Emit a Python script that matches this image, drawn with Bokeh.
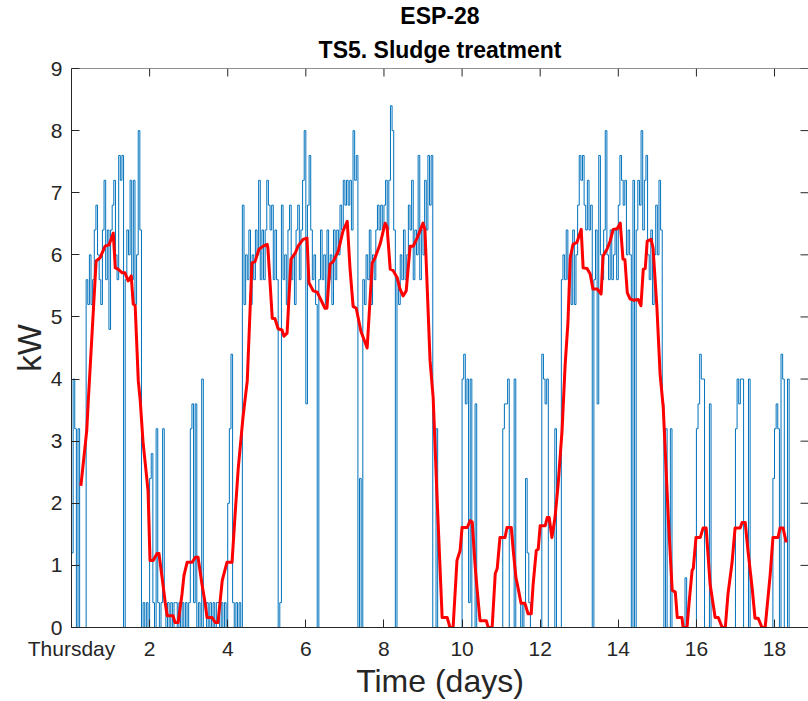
from math import pi
from bokeh.plotting import figure
from bokeh.models import Range1d, FixedTicker, Title, Span
from bokeh.embed import file_html
from bokeh.resources import INLINE

# ---- blue series: hourly power readings (kW), one list per day ----
kw_day00 = [1.2, 4.0, 3.2, 0, 3.2, 0, 0, 0, 0, 5.6, 5.2, 6.0, 5.2, 5.6, 6.4, 6.8, 6.0, 5.6, 5.2, 6.4, 7.2, 5.6, 6.4, 4.8]
kw_day01 = [6.4, 6.8, 7.2, 6.0, 5.6, 7.6, 7.2, 7.6, 0, 5.6, 6.4, 6.0, 7.2, 5.6, 7.2, 5.2, 6.0, 8.0, 6.4, 0, 0.4, 0, 0.4, 0]
kw_day02 = [2.4, 2.8, 0.4, 0, 3.2, 0.4, 0, 0.4, 3.2, 0.4, 0, 0.4, 0, 0.4, 0, 0.4, 0.4, 0, 0.4, 0, 0.4, 0, 0.4, 0]
kw_day03 = [0.4, 3.2, 3.6, 0.4, 3.6, 0, 0.4, 0, 4.0, 0, 0, 0.4, 0, 0.4, 0, 0.4, 0, 0.4, 0.4, 0, 0.4, 0, 0.4, 0]
kw_day04 = [2.0, 3.2, 4.4, 0.4, 0, 0.4, 0, 0.4, 0, 6.8, 5.2, 6.0, 5.6, 6.4, 5.2, 6.0, 5.6, 6.4, 6.0, 7.2, 5.6, 6.4, 5.6, 6.4]
kw_day05 = [7.2, 6.8, 6.4, 6.8, 5.6, 6.4, 5.6, 0, 0.4, 6.8, 5.6, 6.0, 5.2, 6.4, 6.8, 5.6, 6.0, 5.2, 6.4, 6.8, 5.6, 6.4, 7.2, 8.0]
kw_day06 = [3.6, 6.8, 7.6, 6.4, 5.6, 6.0, 5.2, 0, 5.6, 6.4, 5.6, 6.0, 5.2, 6.4, 5.6, 6.0, 5.2, 6.4, 5.6, 6.4, 6.0, 6.8, 6.4, 7.2]
kw_day07 = [6.8, 7.2, 6.8, 7.2, 6.4, 8.0, 7.2, 7.6, 0, 2.4, 0, 5.6, 5.2, 6.0, 5.6, 6.4, 5.2, 6.0, 5.6, 6.4, 6.8, 6.4, 6.8, 6.4]
kw_day08 = [6.8, 7.2, 6.4, 7.2, 8.4, 8.0, 6.4, 0, 5.6, 5.2, 6.0, 5.6, 6.4, 5.6, 6.0, 6.8, 6.4, 7.2, 5.6, 6.4, 6.0, 7.6, 5.6, 6.4]
kw_day09 = [6.0, 7.2, 6.4, 7.6, 6.8, 7.6, 0, 0, 3.2, 0, 0, 0, 0, 0, 0, 0, 0, 0, 0, 0, 0, 0, 0, 0]
kw_day10 = [4.0, 4.4, 3.6, 4.0, 0.4, 4.0, 0, 0, 3.6, 0, 0, 0, 0, 0, 0, 0, 0, 0, 0, 0, 0, 0, 0, 0]
kw_day11 = [0, 3.2, 3.6, 3.6, 4.0, 0, 0, 0, 4.0, 0, 0, 0, 0.4, 0, 0.4, 2.4, 1.2, 0.4, 0, 0, 0, 0, 0, 0]
kw_day12 = [0, 4.4, 4.0, 3.6, 4.0, 0, 0, 0, 0, 3.2, 0, 0, 0, 5.6, 6.0, 5.6, 6.4, 5.6, 6.0, 5.2, 6.4, 5.2, 6.0, 6.8]
kw_day13 = [7.6, 7.2, 7.6, 6.8, 6.4, 7.2, 6.4, 6.8, 0, 5.6, 6.4, 3.6, 7.6, 6.0, 5.6, 6.4, 8.0, 6.0, 5.6, 6.4, 5.6, 6.0, 6.4, 5.6]
kw_day14 = [6.8, 7.6, 7.2, 6.8, 7.2, 6.0, 6.4, 6.0, 0, 7.2, 0, 6.4, 7.2, 6.8, 8.0, 6.4, 7.2, 7.6, 6.0, 5.6, 6.4, 5.2, 6.0, 6.8]
kw_day15 = [6.0, 7.2, 6.4, 3.6, 0, 3.2, 0, 0, 3.2, 0, 0, 0, 0, 0, 0, 0, 0, 0.8, 0, 0, 0, 0, 0, 0]
kw_day16 = [3.2, 3.6, 4.4, 4.0, 4.0, 0, 0, 0, 3.6, 0, 0, 0, 0, 0, 0, 0, 0, 0, 0, 0, 0, 0, 0, 0]
kw_day17 = [3.2, 4.0, 3.6, 4.0, 4.0, 0, 0, 0, 4.0, 0, 0, 0, 0, 0, 0, 0, 0, 0, 0, 0, 0, 0, 0, 2.4]
kw_day18 = [3.2, 3.6, 3.2, 0, 4.4, 4.0, 0, 0, 4.0, 0, 0, 0, 0, 0, 0, 0, 0, 0, 0, 0, 0, 0, 0, 0]

# ---- red series: smoothed power (day, kW) ----
red_points = [
    (0.24, 2.28), (0.39, 3.17), (0.43, 3.65), (0.63, 5.90), (0.73, 5.95), (0.86, 6.14), (0.96, 6.16),
    (1.07, 6.35), (1.12, 5.79), (1.19, 5.77), (1.30, 5.71), (1.37, 5.71), (1.45, 5.58), (1.53, 5.66),
    (1.58, 5.21), (1.63, 5.18), (1.71, 3.97), (1.76, 3.65), (1.83, 3.00), (1.96, 2.20), (2.01, 1.08),
    (2.09, 1.08), (2.19, 1.19), (2.24, 1.19), (2.32, 0.80), (2.40, 0.40), (2.45, 0.19), (2.60, 0.19),
    (2.65, 0.08), (2.73, 0.08), (2.83, 0.54), (2.88, 0.84), (2.96, 1.05), (3.09, 1.05), (3.17, 1.13),
    (3.24, 1.13), (3.34, 0.70), (3.42, 0.40), (3.47, 0.16), (3.60, 0.16), (3.68, 0.08), (3.75, 0.08),
    (3.86, 0.76), (3.91, 0.88), (3.98, 1.05), (4.11, 1.05), (4.19, 1.83), (4.27, 2.57), (4.39, 3.38),
    (4.50, 3.97), (4.62, 5.87), (4.70, 5.89), (4.80, 6.09), (4.91, 6.14), (5.01, 6.17), (5.03, 6.10),
    (5.14, 4.98), (5.21, 4.97), (5.29, 4.81), (5.39, 4.79), (5.44, 4.69), (5.52, 4.74), (5.62, 5.93),
    (5.73, 6.03), (5.80, 6.14), (5.93, 6.25), (6.03, 6.27), (6.08, 5.55), (6.19, 5.42), (6.29, 5.40),
    (6.49, 5.14), (6.54, 5.14), (6.62, 5.85), (6.70, 5.89), (6.83, 6.06), (6.95, 6.38), (7.06, 6.54),
    (7.13, 5.79), (7.21, 5.17), (7.29, 5.14), (7.41, 4.77), (7.57, 4.50), (7.70, 5.87), (7.77, 5.95),
    (7.90, 6.17), (8.03, 6.51), (8.08, 6.45), (8.16, 5.77), (8.23, 5.75), (8.34, 5.63), (8.41, 5.45),
    (8.49, 5.34), (8.57, 5.42), (8.67, 6.14), (8.75, 6.14), (8.85, 6.27), (8.90, 6.35), (9.00, 6.51),
    (9.05, 6.40), (9.18, 4.30), (9.26, 3.70), (9.36, 2.09), (9.49, 0.16), (9.62, 0.16), (9.69, 0.00),
    (9.77, 0.00), (9.87, 1.08), (9.95, 1.24), (10.00, 1.61), (10.13, 1.61), (10.21, 1.72), (10.26, 1.70),
    (10.33, 1.03), (10.38, 0.65), (10.46, 0.11), (10.62, 0.11), (10.67, 0.00), (10.77, 0.00), (10.85, 0.87),
    (10.90, 0.95), (10.97, 1.45), (11.10, 1.45), (11.15, 1.61), (11.26, 1.61), (11.31, 1.24), (11.38, 0.80),
    (11.43, 0.65), (11.51, 0.39), (11.61, 0.39), (11.69, 0.22), (11.77, 0.22), (11.82, 0.70), (11.90, 1.24),
    (11.95, 1.26), (12.00, 1.64), (12.13, 1.64), (12.18, 1.77), (12.23, 1.77), (12.30, 1.45), (12.38, 1.77),
    (12.46, 2.31), (12.56, 3.17), (12.64, 4.24), (12.71, 4.90), (12.77, 5.95), (12.84, 6.17), (12.94, 6.20),
    (13.05, 6.41), (13.10, 5.79), (13.20, 5.78), (13.28, 5.69), (13.35, 5.45), (13.46, 5.45), (13.56, 5.37),
    (13.61, 5.98), (13.71, 6.09), (13.79, 6.22), (13.87, 6.41), (13.97, 6.42), (14.05, 6.51), (14.12, 5.93),
    (14.17, 5.92), (14.23, 5.39), (14.30, 5.29), (14.38, 5.27), (14.51, 5.28), (14.58, 5.18), (14.64, 5.77),
    (14.69, 5.78), (14.74, 6.22), (14.84, 6.25), (14.89, 6.11), (14.99, 5.14), (15.07, 4.08), (15.15, 3.55),
    (15.22, 2.60), (15.28, 1.77), (15.38, 0.60), (15.46, 0.57), (15.51, 0.16), (15.63, 0.16), (15.66, 0.00),
    (15.76, 0.00), (15.81, 0.38), (15.89, 0.92), (15.92, 0.95), (15.99, 1.45), (16.10, 1.45), (16.17, 1.60),
    (16.25, 1.60), (16.35, 0.70), (16.48, 0.16), (16.56, 0.16), (16.66, 0.00), (16.74, 0.00), (16.81, 0.55),
    (16.91, 1.03), (16.99, 1.60), (17.12, 1.60), (17.17, 1.69), (17.25, 1.69), (17.32, 1.24), (17.43, 0.62),
    (17.50, 0.15), (17.58, 0.15), (17.68, 0.00), (17.76, 0.00), (17.89, 0.86), (17.96, 1.45), (18.09, 1.45),
    (18.14, 1.60), (18.22, 1.60), (18.30, 1.37),
]

x_ticks = [0, 2, 4, 6, 8, 10, 12, 14, 16, 18]
x_tick_labels = {0: "Thursday"}
y_ticks = [0, 1, 2, 3, 4, 5, 6, 7, 8, 9]

title_line1 = "ESP-28"
title_line2 = "TS5. Sludge treatment"
x_label = "Time (days)"
y_label = "kW"

X_MAX = 18.87
Y_MAX = 9

kw_blue = (kw_day00 + kw_day01 + kw_day02 + kw_day03 + kw_day04 + kw_day05 + kw_day06 +
           kw_day07 + kw_day08 + kw_day09 + kw_day10 + kw_day11 + kw_day12 + kw_day13 +
           kw_day14 + kw_day15 + kw_day16 + kw_day17 + kw_day18)
t_blue = [i / 24 for i in range(len(kw_blue))]
red_days = [d for d, _ in red_points]
red_kw = [k for _, k in red_points]

FONT = "Liberation Sans"
AX = "#262626"
TICK = 8

p = figure(width=808, height=701, output_backend="svg", toolbar_location=None,
           x_range=Range1d(0, X_MAX), y_range=Range1d(0, Y_MAX), title=None,
           min_border_left=71, min_border_right=0, min_border_top=67, min_border_bottom=74)
p.background_fill_color = "white"
p.border_fill_color = "white"
p.outline_line_color = None
p.xgrid.visible = False
p.ygrid.visible = False

p.step(t_blue, kw_blue, mode="after", line_color="#0072BD", line_width=1)
p.line(red_days, red_kw, line_color="#FF0000", line_width=3, line_join="round")

# box: top edge line and inward ticks on the top and right sides
p.add_layout(Span(location=Y_MAX, dimension="width", line_color=AX, line_width=1))
p.ray(x=x_ticks, y=[Y_MAX] * len(x_ticks), length=TICK, length_units="screen",
      angle=-pi / 2, line_color=AX, line_width=1)
p.ray(x=[X_MAX] * len(y_ticks), y=y_ticks, length=TICK, length_units="screen",
      angle=pi, line_color=AX, line_width=1)


def style_axis(ax, ticks):
    ax.ticker = FixedTicker(ticks=ticks)
    ax.major_tick_in = TICK
    ax.major_tick_out = 0
    ax.minor_tick_line_color = None
    ax.axis_line_color = AX
    ax.major_tick_line_color = AX
    ax.major_label_text_color = AX
    ax.major_label_text_font = FONT
    ax.axis_label_text_font = FONT
    ax.axis_label_text_color = AX
    ax.axis_label_text_font_style = "normal"


xa = p.xaxis[0]
style_axis(xa, x_ticks)
xa.major_label_overrides = x_tick_labels
xa.major_label_text_font_size = "21px"
xa.major_label_standoff = 9
xa.axis_label = x_label
xa.axis_label_text_font_size = "32px"
xa.axis_label_standoff = 0

ya = p.yaxis[0]
style_axis(ya, y_ticks)
ya.major_label_text_font_size = "21px"
ya.major_label_standoff = 9
ya.axis_label = y_label
ya.axis_label_text_font_size = "33px"
ya.axis_label_standoff = 0

p.add_layout(Title(text=title_line2, align="center", text_font=FONT, text_font_size="23px",
                   text_font_style="bold", text_color="black", standoff=12), "above")
p.add_layout(Title(text=title_line1, align="center", text_font=FONT, text_font_size="23px",
                   text_font_style="bold", text_color="black", standoff=0), "above")

open("out.html", "w").write(file_html(p, INLINE))
